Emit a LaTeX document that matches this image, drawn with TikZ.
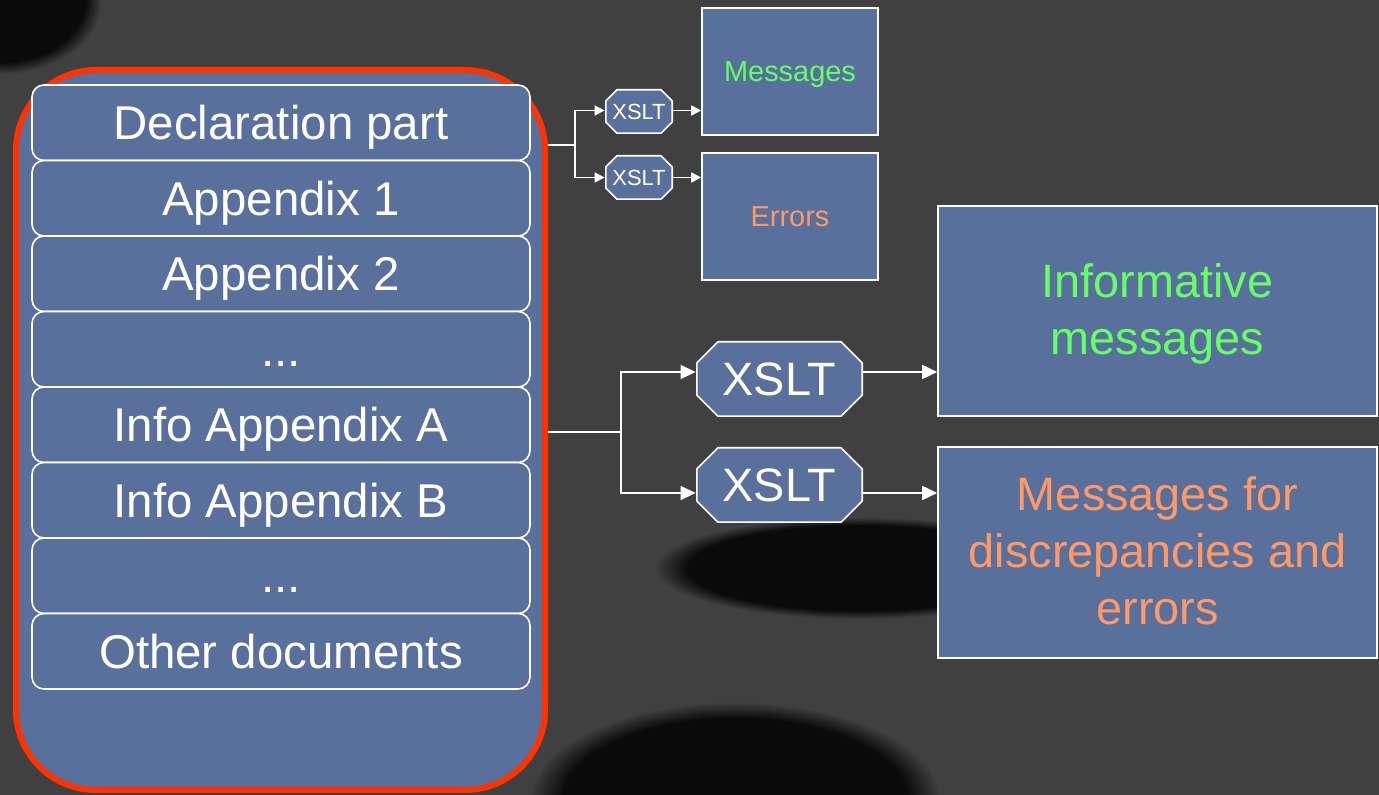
\documentclass[tikz,border=0pt]{standalone}
\usepackage{fontspec}
\setmainfont{Liberation Sans}
\usepackage{tikz}
\usetikzlibrary{arrows.meta}

\definecolor{slidebg}{RGB}{64,64,64}
\definecolor{boxblue}{RGB}{89,111,156}
\definecolor{framered}{RGB}{255,51,0}
\definecolor{msggreen}{RGB}{102,255,102}
\definecolor{errorange}{RGB}{255,153,102}
\definecolor{shadowdark}{RGB}{10,10,10}

% soft dark patch of the photo behind the slide
\pgfdeclareradialshading{blobshade}{\pgfpoint{0bp}{0bp}}{color(0bp)=(shadowdark); color(20.5bp)=(shadowdark); color(24.5bp)=(slidebg); color(25bp)=(slidebg); color(50bp)=(slidebg)}

\tikzset{
  blob/.style={shading=blobshade},
  part/.style={draw=white,fill=boxblue,rounded corners=6bp,line width=0.8bp,
    minimum width=249bp,minimum height=37.75bp,inner sep=0pt,text=white,
    text height=17bp,text depth=0pt,font=\fontsize{23.8}{28}\selectfont},
  octagon/.style={path picture={
    \draw [white,fill=boxblue,line width=0.8bp]
      ([shift={(#1,-0.4bp)}]path picture bounding box.north west) --
      ([shift={(-#1,-0.4bp)}]path picture bounding box.north east) --
      ([shift={(-0.4bp,-#1)}]path picture bounding box.north east) --
      ([shift={(-0.4bp,#1)}]path picture bounding box.south east) --
      ([shift={(-#1,0.4bp)}]path picture bounding box.south east) --
      ([shift={(#1,0.4bp)}]path picture bounding box.south west) --
      ([shift={(0.4bp,#1)}]path picture bounding box.south west) --
      ([shift={(0.4bp,-#1)}]path picture bounding box.north west) -- cycle;}},
  xslt/.style={octagon=11bp,minimum width=83.5bp,minimum height=38bp,inner sep=0pt,
    text=white,text height=16.8bp,text depth=0pt,font=\fontsize{23.5}{28}\selectfont},
  xsltsmall/.style={octagon=6bp,minimum width=34bp,minimum height=22.5bp,inner sep=0pt,
    text=white,text height=7.9bp,text depth=0pt,font=\fontsize{11}{13}\selectfont},
  result/.style={draw=white,fill=boxblue,line width=0.8bp,inner sep=0pt,
    align=center,text depth=2bp,font=\fontsize{23.5}{28.5}\selectfont},
  resultsmall/.style={result,minimum width=88bp,minimum height=63.5bp,
    text height=10.4bp,text depth=0pt,font=\fontsize{14.5}{17}\selectfont},
  link/.style={white,line width=0.8bp},
  smallarrow/.style={-{Triangle[length=5bp,width=5bp]}},
}

\begin{document}
\begin{tikzpicture}[>={Triangle[length=7.5bp,width=7bp]},line join=miter]
\useasboundingbox (0bp,0bp) rectangle (689.5bp,397.5bp);
%% background and its shadows
\fill [slidebg] (0bp,0bp) rectangle (689.5bp,397.5bp);
\shade [blob] (0bp,397.5bp) ellipse (52bp and 38bp);
\shade [blob] (367.5bp,-2.5bp) ellipse (105bp and 50bp);
\shade [blob] (430bp,113.5bp) ellipse (105bp and 26bp);
%%
\node (node_doc) at (140.25bp,182.5bp) [draw=framered,fill=boxblue,line width=3bp,rounded corners=40bp,minimum width=264.5bp,minimum height=360bp] {};
  \node (node_decl) at (140.5bp,336.125bp) [part] {Declaration part};
  \node (node_app1) at (140.5bp,298.375bp) [part] {Appendix 1};
  \node (node_app2) at (140.5bp,260.625bp) [part] {Appendix 2};
  \node (node_dots1) at (140.5bp,222.875bp) [part] {...};
  \node (node_infoa) at (140.5bp,185.125bp) [part] {Info Appendix A};
  \node (node_infob) at (140.5bp,147.375bp) [part] {Info Appendix B};
  \node (node_dots2) at (140.5bp,109.625bp) [part] {...};
  \node (node_other) at (140.5bp,71.875bp) [part] {Other documents};
%%
  \node (node_xs1) at (319.5bp,341.75bp) [xsltsmall] {XSLT};
  \node (node_xs2) at (319.5bp,308.75bp) [xsltsmall] {XSLT};
  \node (node_msg) at (395bp,361.75bp) [resultsmall,text=msggreen] {Messages};
  \node (node_err) at (395bp,289.25bp) [resultsmall,text=errorange] {Errors};
%%
  \node (node_xb1) at (389.75bp,208bp) [xslt] {XSLT};
  \node (node_xb2) at (389.75bp,155bp) [xslt] {XSLT};
  \node (node_info) at (578.75bp,242bp) [result,minimum width=219.5bp,minimum height=105bp,text=msggreen] {Informative\\messages};
  \node (node_disc) at (578.75bp,121.25bp) [result,minimum width=219.5bp,minimum height=105.5bp,text=errorange] {Messages for\\discrepancies and\\errors};
%%
\coordinate (split_1) at (287.5bp,325bp);
\coordinate (split_2) at (310.5bp,181.5bp);
  \draw [link] (node_doc.east |- split_1) -- (split_1);
  \draw [link,smallarrow] (split_1) |- ([yshift=0.5bp]node_xs1.west);
  \draw [link,smallarrow] (split_1) |- (node_xs2.west);
  \draw [link,smallarrow] ([yshift=0.5bp]node_xs1.east) -- ([yshift=0.5bp]node_xs1.east -| node_msg.west);
  \draw [link,smallarrow] (node_xs2.east) -- (node_xs2.east -| node_err.west);
  \draw [link] (node_doc.east |- split_2) -- (split_2);
  \draw [link,->] (split_2) |- ([yshift=3.5bp]node_xb1.west);
  \draw [link,->] (split_2) |- ([yshift=-4bp]node_xb2.west);
  \draw [link,->] ([yshift=3.5bp]node_xb1.east) -- ([yshift=3.5bp]node_xb1.east -| node_info.west);
  \draw [link,->] ([yshift=-4bp]node_xb2.east) -- ([yshift=-4bp]node_xb2.east -| node_disc.west);
%
\end{tikzpicture}
\end{document}
